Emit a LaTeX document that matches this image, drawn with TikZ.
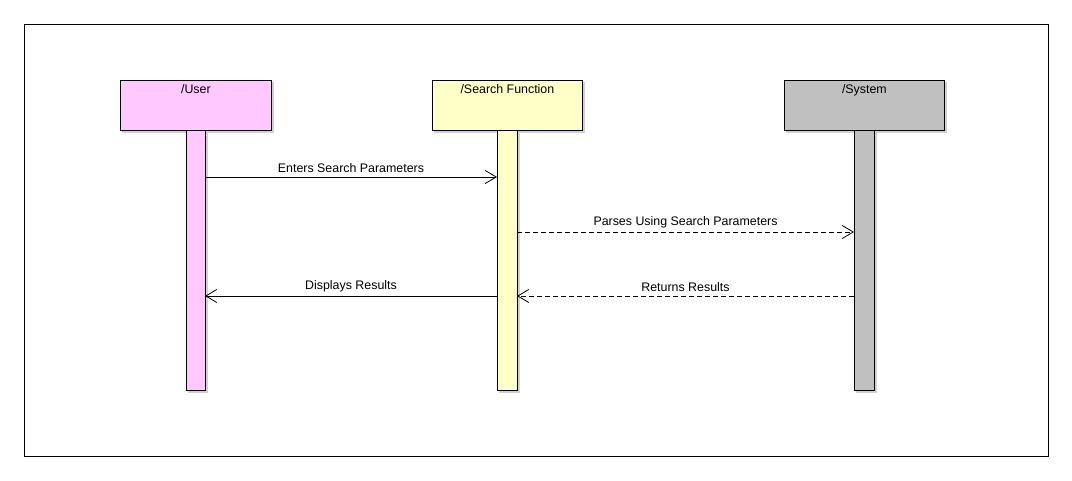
\documentclass[tikz,border=0pt]{standalone}
\usepackage{fontspec}
\setmainfont{Liberation Sans}
\usetikzlibrary{arrows.meta}
\begin{document}
\begin{tikzpicture}[x=1pt,y=-1pt,
  lbl/.style={font=\fontsize{12.4}{14}\selectfont, inner sep=0pt},
  actor/.style={draw=black, line width=0.8pt, minimum width=151pt, minimum height=50pt, anchor=north west, inner sep=0pt},
  bar/.style={draw=black, line width=0.8pt, minimum width=19pt, anchor=north west, inner sep=0pt},
  msg/.style={line width=0.8pt, -{Straight Barb[length=11pt,width=13pt,line width=0.8pt]}},
  ret/.style={msg, dash pattern=on 5pt off 3pt},
  shadow/.style={fill=black!18, draw=none}
]
\useasboundingbox (0,0) rectangle (1072,480);
\fill[white] (0,0) rectangle (1072,480);
\node[draw=black, line width=0.8pt, minimum width=1024pt, minimum height=432pt, anchor=north west, inner sep=0pt] (frame) at (24,24) {};
\definecolor{upink}{RGB}{255,200,255}
\definecolor{syell}{RGB}{255,255,200}
\definecolor{sgray}{RGB}{192,192,192}
% shadows
\fill[shadow] (122,82) rectangle (273.5,132.5);
\fill[shadow] (434,82) rectangle (584.5,132.5);
\fill[shadow] (786,82) rectangle (946.5,132.5);
\fill[shadow] (188,132) rectangle (207.5,392.5);
\fill[shadow] (499,132) rectangle (519.5,392.5);
\fill[shadow] (856,132) rectangle (876.5,392.5);
% lifelines
\node[bar, fill=upink, minimum height=260pt] (ubar) at (186,130) {};
\node[bar, fill=syell, minimum height=260pt, minimum width=20pt] (sbar) at (497,130) {};
\node[bar, fill=sgray, minimum height=260pt, minimum width=20pt] (ybar) at (854,130) {};
% heads
\node[actor, fill=upink] (user) at (120,80) {};
\node[actor, fill=syell, minimum width=150pt] (search) at (432,80) {};
\node[actor, fill=sgray, minimum width=160pt] (system) at (784,80) {};
\node[lbl, anchor=north] (userl) at ([yshift=-4pt]user.north) {/User};
\node[lbl, anchor=north] (searchl) at ([yshift=-4pt]search.north) {/Search Function};
\node[lbl, anchor=north] (systeml) at ([yshift=-4pt]system.north) {/System};
% messages
\coordinate (m1a) at (205,177); \coordinate (m1b) at (497,177);
\coordinate (m2a) at (517,232); \coordinate (m2b) at (854,232);
\coordinate (m3a) at (854,296); \coordinate (m3b) at (517,296);
\coordinate (m4a) at (497,296); \coordinate (m4b) at (205,296);
\draw[msg] (m1a) -- node[lbl, above=3.5pt] (l1) {Enters Search Parameters} (m1b);
\draw[ret] (m2a) -- node[lbl, above=3.5pt] (l2) {Parses Using Search Parameters} (m2b);
\draw[ret] (m3a) -- node[lbl, above=3.5pt] (l3) {Returns Results} (m3b);
\draw[msg] (m4a) -- node[lbl, above=3.5pt] (l4) {Displays Results} (m4b);
\end{tikzpicture}
\end{document}
